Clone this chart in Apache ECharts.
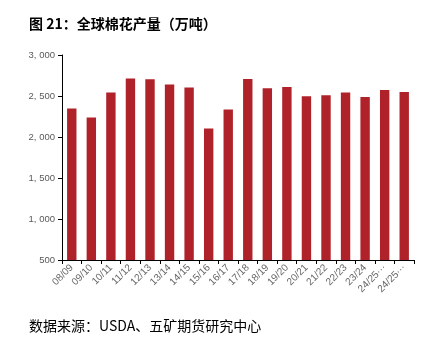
<!DOCTYPE html>
<html><head><meta charset="utf-8">
<script src="https://cdn.jsdelivr.net/npm/echarts@6/dist/echarts.min.js"></script>
<style>html,body{margin:0;padding:0;background:#fff}#c{width:437px;height:341px}</style>
</head><body><div id="c"></div>
<script>
const categories = ['08/09','09/10','10/11','11/12','12/13','13/14','14/15','15/16','16/17','17/18','18/19','19/20','20/21','21/22','22/23','23/24','24/25···','24/25···'];
const production = [2348,2238,2542,2713,2704,2640,2603,2104,2336,2708,2595,2611,2497,2510,2542,2489,2574,2550];
const yTicks = [500,1000,1500,2000,2500,3000];
const titleText = '图 21：全球棉花产量（万吨）';
const sourceText = '数据来源：USDA、五矿期货研究中心';

const chart = echarts.init(document.getElementById('c'), null, {renderer:'canvas'});
chart.setOption({
  animation:false,
  backgroundColor:'#fff',
  title:[
    {text:titleText,left:24,top:12,textStyle:{fontSize:14,fontWeight:'bold',color:'#000',fontFamily:'Noto Sans CJK SC'}},
    {text:sourceText,left:24,top:314,textStyle:{fontSize:14,fontWeight:'normal',color:'#000',fontFamily:'Noto Sans CJK SC'}}
  ],
  grid:{left:62,right:23,top:55,bottom:81,containLabel:false},
  xAxis:{
    type:'category',data:categories,
    axisLine:{lineStyle:{color:'#000',width:1}},
    axisTick:{show:true,alignWithLabel:false,length:4,lineStyle:{color:'#000'}},
    axisLabel:{rotate:45,fontSize:10,color:'#666',margin:6,interval:0,fontFamily:'Liberation Sans'}
  },
  yAxis:{
    type:'value',min:yTicks[0],max:yTicks[yTicks.length-1],interval:500,
    splitLine:{show:false},
    axisLine:{show:true,lineStyle:{color:'#000',width:1}},
    axisTick:{show:true,length:4,lineStyle:{color:'#000'}},
    axisLabel:{fontSize:9.5,color:'#595959',margin:7,fontFamily:'Liberation Sans',
      formatter:v=>{const s=String(v);return s.length>3?s.slice(0,s.length-3)+', '+s.slice(-3):s;}}
  },
  series:[{type:'bar',data:production,barWidth:'48%',itemStyle:{color:'#B0222A'}}]
});
</script></body></html>
